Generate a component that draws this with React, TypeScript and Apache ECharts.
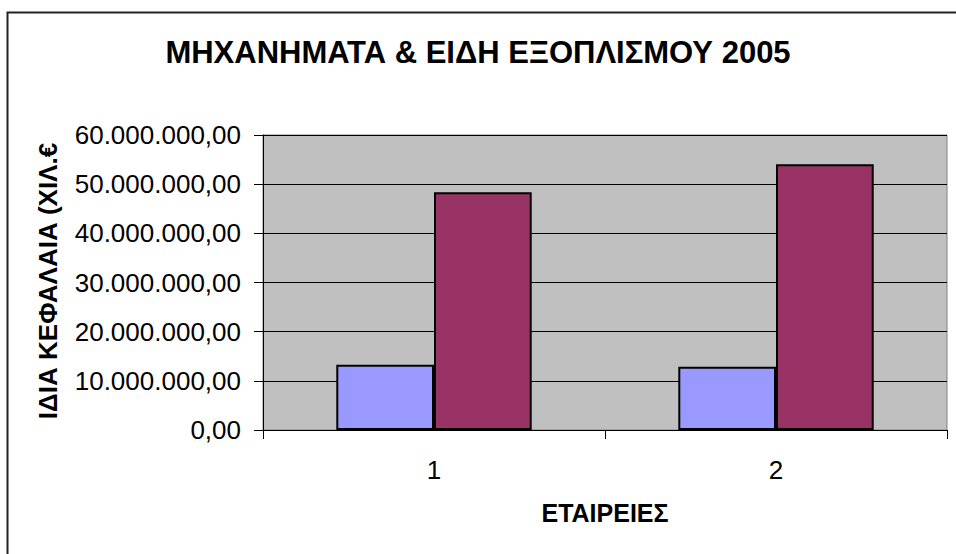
import React, { useEffect, useRef } from "react";
import * as echarts from "echarts";

const categories = ["1", "2"];
const seriesA = [13280000, 12870000];
const seriesB = [48350000, 54040000];
const titleText = "ΜΗΧΑΝΗΜΑΤΑ & ΕΙΔΗ ΕΞΟΠΛΙΣΜΟΥ 2005";
const yName = "ΙΔΙΑ ΚΕΦΑΛΑΙΑ (ΧΙΛ.€";
const xName = "ΕΤΑΙΡΕΙΕΣ";

const FONT = "'Liberation Sans', Arial, sans-serif";

function fmt(v: number): string {
  const s = Math.round(v).toString();
  const parts: string[] = [];
  for (let i = s.length; i > 0; i -= 3) parts.unshift(s.substring(Math.max(0, i - 3), i));
  return parts.join(".") + ",00";
}

export default function App() {
  const ref = useRef<HTMLDivElement>(null);
  useEffect(() => {
    if (!ref.current) return;
    const chart = echarts.init(ref.current, null, { renderer: "svg" });
    chart.setOption({
      animation: false,
      backgroundColor: "#ffffff",
      textStyle: { fontFamily: FONT },
      title: {
        text: titleText,
        left: "center",
        top: 32,
        textStyle: { fontFamily: FONT, fontSize: 31, fontWeight: "bold", color: "#000" },
      },
      grid: {
        left: 263,
        top: 135,
        right: 9,
        bottom: 124,
        show: true,
        backgroundColor: "#C0C0C0",
        borderColor: "#808080",
        borderWidth: 1,
      },
      xAxis: {
        type: "category",
        data: categories,
        axisLine: { lineStyle: { color: "#000", width: 1 } },
        axisTick: { show: true, length: 9, lineStyle: { color: "#000" } },
        axisLabel: { fontFamily: FONT, fontSize: 26, color: "#000", margin: 27 },
      },
      yAxis: {
        type: "value",
        min: 0,
        max: 60000000,
        interval: 10000000,
        axisLine: { show: true, lineStyle: { color: "#000", width: 1 } },
        axisTick: { show: true, length: 9, lineStyle: { color: "#000" } },
        axisLabel: { fontFamily: FONT, fontSize: 26, color: "#000", margin: 22, formatter: (v: number) => fmt(v) },
        splitLine: { show: true, lineStyle: { color: "#000", width: 1 } },
      },
      series: [
        {
          type: "bar",
          data: seriesA,
          barGap: "0%",
          barCategoryGap: "42.86%",
          itemStyle: { color: "#9999FF", borderColor: "#000", borderWidth: 2 },
        },
        {
          type: "bar",
          data: seriesB,
          barGap: "0%",
          barCategoryGap: "42.86%",
          itemStyle: { color: "#993366", borderColor: "#000", borderWidth: 2 },
        },
      ],
      graphic: [
        {
          type: "rect",
          z: -10,
          shape: { x: 7.5, y: 12.5, width: 1000, height: 600 },
          style: { fill: "none", stroke: "#222", lineWidth: 2 },
        },
        {
          type: "text",
          x: 48,
          y: 281,
          rotation: Math.PI / 2,
          style: {
            text: yName,
            fontFamily: FONT,
            fontSize: 26,
            fontWeight: "bold",
            fill: "#000",
            align: "center",
            verticalAlign: "middle",
          },
        },
        {
          type: "text",
          x: 605,
          y: 513,
          style: {
            text: xName,
            fontFamily: FONT,
            fontSize: 25,
            fontWeight: "bold",
            fill: "#000",
            align: "center",
            verticalAlign: "middle",
          },
        },
      ],
    });
    return () => chart.dispose();
  }, []);
  return <div ref={ref} style={{ width: 956, height: 554, position: "absolute", left: 0, top: 0 }} />;
}
